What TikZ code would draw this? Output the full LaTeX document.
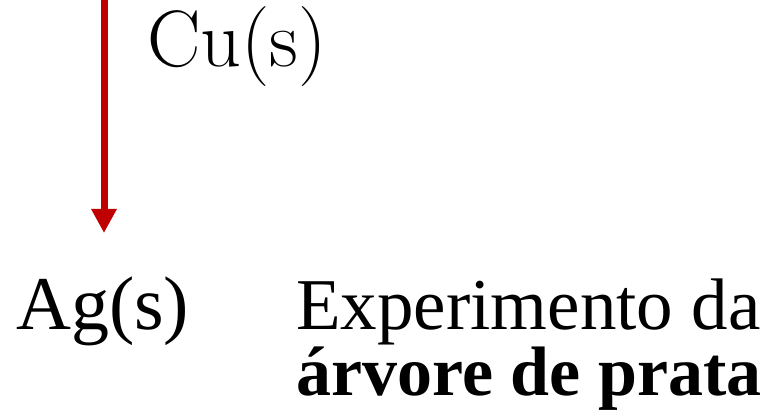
\documentclass[tikz,border=0pt]{standalone}
\usepackage{fontspec}
\newfontfamily\serifgar{Liberation Serif}
\usetikzlibrary{arrows.meta}
\definecolor{arrowred}{RGB}{192,0,0}
\tikzset{
  redarrow/.style={arrowred,line width=7pt,-{Triangle[width=24pt,length=24pt]}},
  bigtext/.style={inner sep=0pt,anchor=base west,font=\fontsize{80}{86}\selectfont},
  gartext/.style={inner sep=0pt,anchor=base west,font=\serifgar\fontsize{73}{78}\selectfont}
}
\begin{document}
\begin{tikzpicture}[x=1pt,y=1pt]
  \useasboundingbox (0,0) rectangle (771,419);
  \coordinate (top) at (104,419);
  \coordinate (tip) at (104,186);
  \draw[redarrow] (top) -- (tip);
  \node[bigtext] (cu) at (147,352) {Cu(s)};
  \node[gartext,font=\serifgar\fontsize{76}{80}\selectfont] (ag) at (16,89) {Ag(s)};
  \node[gartext] (exp) at (296,89) {Experimento da};
  \node[gartext,font=\serifgar\bfseries\fontsize{70}{75}\selectfont] (arv) at (296,23) {árvore de prata};
\end{tikzpicture}
\end{document}
